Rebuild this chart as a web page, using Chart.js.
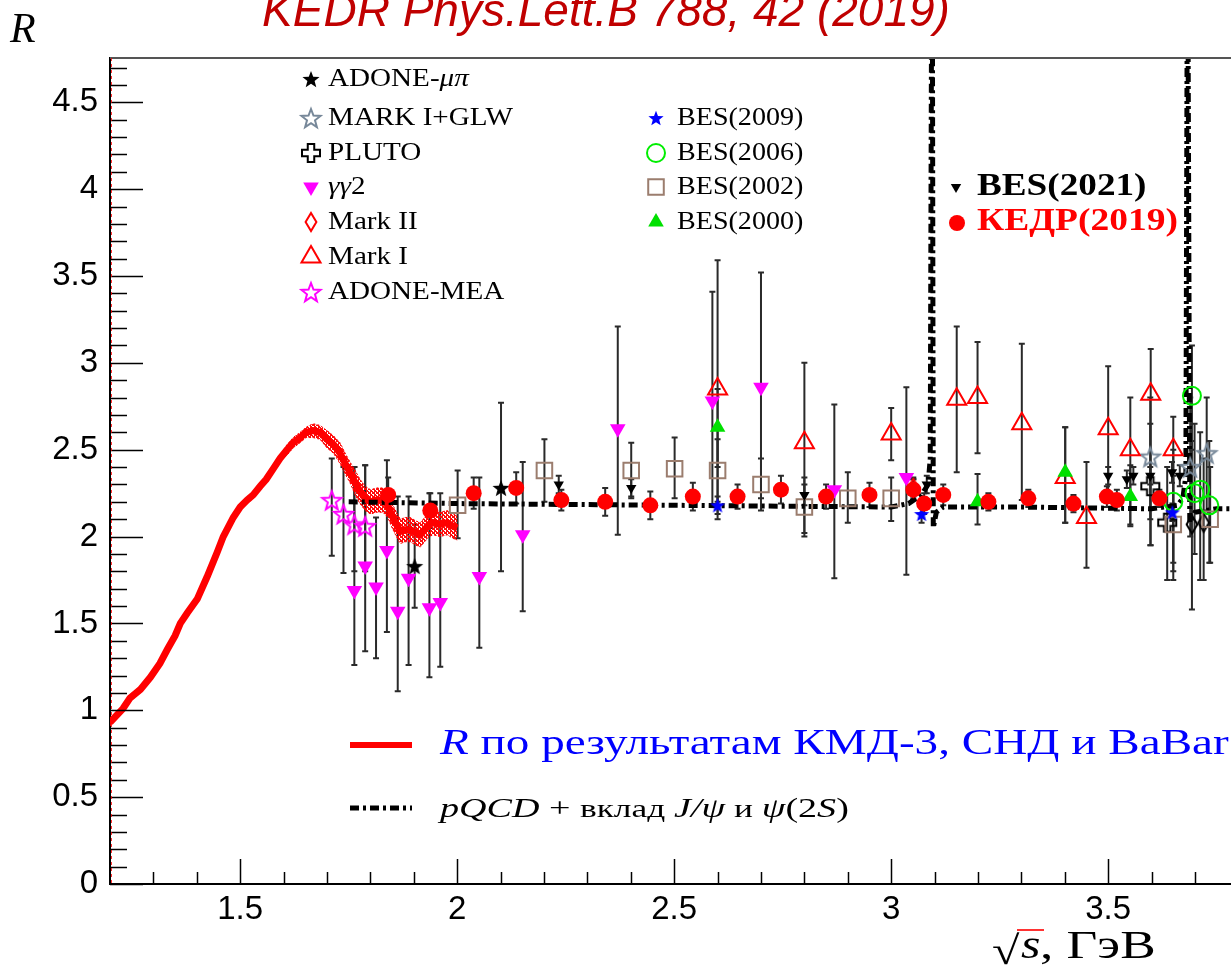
<!DOCTYPE html>
<html>
<head>
<meta charset="utf-8">
<title>R(s)</title>
<script src="https://cdn.jsdelivr.net/npm/chart.js@4.4.1/dist/chart.umd.min.js"></script>
<style>
html, body { margin: 0; padding: 0; background: #fff; }
canvas { display: block; }
</style>
</head>
<body>
<canvas id="rChart" width="1231" height="968" style="width:1231px;height:968px"></canvas>
<script>
// оси
const xTickValues = [1.5, 2, 2.5, 3, 3.5];
const yTickValues = [0, 0.5, 1, 1.5, 2, 2.5, 3, 3.5, 4, 4.5];

// R по результатам КМД-3, СНД и BaBar (кривая + коридор ошибок)
const curveX = [1.200, 1.230, 1.246, 1.270, 1.293, 1.315, 1.332, 1.350, 1.362, 1.378, 1.401, 1.424, 1.447, 1.461, 1.484, 1.500,
  1.516, 1.530, 1.546, 1.560, 1.576, 1.592, 1.608, 1.622, 1.638, 1.652, 1.668, 1.684, 1.700, 1.715, 1.730, 1.742, 1.753,
  1.765, 1.776, 1.788, 1.800, 1.815, 1.829, 1.840, 1.850, 1.860, 1.869, 1.880, 1.892, 1.905, 1.915, 1.925, 1.935, 1.945,
  1.960, 1.977, 1.990, 2.000];
const curveY = [0.93, 1.01, 1.07, 1.12, 1.19, 1.27, 1.35, 1.43, 1.50, 1.56, 1.64, 1.77, 1.91, 2.00, 2.11, 2.17,
  2.21, 2.24, 2.29, 2.33, 2.39, 2.45, 2.50, 2.54, 2.57, 2.60, 2.61, 2.60, 2.56, 2.53, 2.48, 2.42, 2.37,
  2.31, 2.26, 2.22, 2.20, 2.21, 2.21, 2.18, 2.12, 2.07, 2.03, 2.04, 2.04, 2.02, 2.01, 2.04, 2.07, 2.08,
  2.07, 2.08, 2.06, 2.05];
const curveErr = [0.02, 0.02, 0.02, 0.02, 0.02, 0.02, 0.02, 0.02, 0.02, 0.02, 0.02, 0.02, 0.02, 0.02, 0.02, 0.02,
  0.02, 0.02, 0.02, 0.02, 0.02, 0.02, 0.03, 0.03, 0.03, 0.03, 0.04, 0.04, 0.05, 0.05, 0.06, 0.06, 0.06,
  0.07, 0.07, 0.07, 0.07, 0.07, 0.07, 0.07, 0.07, 0.07, 0.07, 0.07, 0.07, 0.07, 0.07, 0.07, 0.07, 0.07,
  0.07, 0.07, 0.07, 0.07];

// pQCD + вклад J/psi и psi(2S)
const pqcdX = [1.75, 2.0, 2.5, 3.0, 3.04, 3.07, 3.085, 3.090, 3.093, 3.095, 3.097, 3.104, 3.12, 3.3, 3.6, 3.66, 3.672, 3.679, 3.682, 3.684, 3.688, 3.70, 3.75, 3.79];
const pqcdY = [2.20, 2.19, 2.18, 2.17, 2.19, 2.24, 2.30, 2.45, 5.0, 5.0, 2.05, 2.14, 2.17, 2.17, 2.16, 2.18, 2.22, 2.35, 5.0, 5.0, 2.08, 2.14, 2.16, 2.16];

// КЕДР(2019)
const kedrX = [1.841, 1.938, 2.038, 2.136, 2.240, 2.341, 2.445, 2.543, 2.646, 2.746, 2.850, 2.950, 3.051, 3.076, 3.120, 3.224, 3.316, 3.420, 3.497, 3.520, 3.618];
const kedrY = [2.24, 2.15, 2.25, 2.28, 2.21, 2.20, 2.18, 2.23, 2.23, 2.27, 2.23, 2.24, 2.27, 2.19, 2.24, 2.20, 2.22, 2.19, 2.23, 2.21, 2.22];
const kedrErr = [0.10, 0.10, 0.09, 0.09, 0.06, 0.08, 0.08, 0.08, 0.07, 0.08, 0.07, 0.07, 0.06, 0.06, 0.06, 0.05, 0.05, 0.05, 0.06, 0.06, 0.05];

// BES(2021)
const bes21X = [2.234, 2.401, 2.800, 3.051, 3.082, 3.500, 3.543, 3.558, 3.597, 3.647, 3.665];
const bes21Y = [2.30, 2.28, 2.24, 2.27, 2.30, 2.35, 2.33, 2.35, 2.35, 2.37, 2.35];
const bes21Err = [0.05, 0.05, 0.06, 0.06, 0.05, 0.05, 0.05, 0.05, 0.05, 0.06, 0.06];

// gamma gamma 2
const gg2X = [1.763, 1.788, 1.813, 1.838, 1.863, 1.888, 1.936, 1.961, 2.051, 2.151, 2.370, 2.588, 2.700, 2.869, 3.035];
const gg2Y = [1.69, 1.83, 1.71, 1.92, 1.57, 1.76, 1.59, 1.62, 1.77, 2.01, 2.62, 2.78, 2.86, 2.27, 2.34];
const gg2Lo = [1.26, 1.34, 1.30, 1.45, 1.11, 1.26, 1.19, 1.25, 1.36, 1.57, 2.01, 2.17, 2.22, 1.76, 1.78];
const gg2Hi = [2.40, 2.41, 2.11, 2.44, 2.23, 2.23, 2.25, 2.25, 2.34, 2.43, 3.21, 3.41, 3.52, 2.76, 2.86];

// ADONE-MEA
const meaX = [1.711, 1.738, 1.763, 1.788];
const meaY = [2.21, 2.13, 2.07, 2.06];
const meaLo = [1.89, 1.79, 1.80, 1.80];
const meaHi = [2.45, 2.40, 2.40, 2.41];

// ADONE-mu pi
const mupiX = [1.902, 2.101];
const mupiY = [1.83, 2.28];
const mupiLo = [1.59, 1.80];
const mupiHi = [2.07, 2.77];

// BES(2002)
const bes02X = [2.001, 2.201, 2.401, 2.501, 2.600, 2.700, 2.800, 2.900, 3.000, 3.650, 3.735];
const bes02Y = [2.18, 2.38, 2.38, 2.39, 2.38, 2.30, 2.17, 2.22, 2.22, 2.07, 2.10];
const bes02Lo = [1.99, 2.20, 2.22, 2.22, 2.20, 2.15, 2.00, 2.08, 2.09, 1.80, 1.85];
const bes02Hi = [2.38, 2.56, 2.54, 2.57, 2.56, 2.45, 2.34, 2.37, 2.34, 2.35, 2.40];

// Mark I
const mark1X = [2.600, 2.800, 3.000, 3.151, 3.199, 3.301, 3.401, 3.450, 3.500, 3.551, 3.598, 3.650];
const mark1Y = [2.85, 2.54, 2.59, 2.79, 2.80, 2.65, 2.34, 2.11, 2.62, 2.50, 2.82, 2.50];
const mark1Lo = [2.10, 2.02, 2.44, 2.37, 2.48, 2.21, 2.08, 1.82, 2.25, 2.06, 1.95, 1.75];
const mark1Hi = [3.59, 3.00, 2.74, 3.21, 3.12, 3.11, 2.63, 2.43, 2.98, 2.80, 3.08, 2.69];

// Mark II
const mark2X = [3.051];
const mark2Y = [2.28];
const mark2Lo = [2.22];
const mark2Hi = [2.34];

// BES(2000)
const bes00X = [2.600, 3.199, 3.401, 3.551];
const bes00Y = [2.63, 2.20, 2.37, 2.23];
const bes00Lo = [2.40, 2.07, 2.08, 2.07];
const bes00Hi = [2.85, 2.36, 2.63, 2.41];

// BES(2009)
const bes09X = [2.600, 3.070, 3.648];
const bes09Y = [2.18, 2.13, 2.14];
const bes09Lo = [2.13, 2.08, 2.09];
const bes09Hi = [2.23, 2.18, 2.19];

// BES(2006)
const bes06X = [3.650, 3.693, 3.699, 3.712, 3.733];
const bes06Y = [2.20, 2.81, 2.25, 2.27, 2.18];
const bes06Lo = [1.85, 2.50, 1.90, 1.75, 1.85];
const bes06Hi = [2.50, 3.10, 2.65, 2.60, 2.55];

// MARK I+GLW
const glwX = [3.597, 3.689, 3.727];
const glwY = [2.46, 2.40, 2.48];
const glwLo = [2.10, 2.00, 2.15];
const glwHi = [2.80, 2.80, 2.80];

// PLUTO
const plutoX = [3.597, 3.636];
const plutoY = [2.29, 2.08];
const plutoLo = [1.95, 1.75];
const plutoHi = [2.65, 2.40];

// открытые ромбы у psi(2S)
const rhombX = [3.693, 3.720];
const rhombY = [2.07, 2.08];
const rhombLo = [1.58, 1.75];
const rhombHi = [2.55, 2.45];

const SERIF = "'Liberation Serif', 'DejaVu Serif', serif";
const SANS = "'Liberation Sans', Arial, sans-serif";

// ---- маркеры, которых нет среди pointStyle Chart.js
function starCanvas(r, fill, stroke, lw) {
    lw = lw || 0;
    const s = Math.ceil(2 * r + lw + 4);
    const c = document.createElement('canvas');
    c.width = c.height = s;
    const g = c.getContext('2d');
    g.translate(s / 2, s / 2 + r * 0.1);
    g.beginPath();
    for (let k = 0; k < 10; k++) {
        const a = -Math.PI / 2 + k * Math.PI / 5;
        const rr = k % 2 ? r * 0.42 : r;
        g.lineTo(rr * Math.cos(a), rr * Math.sin(a));
    }
    g.closePath();
    if (fill) { g.fillStyle = fill; g.fill(); }
    if (stroke) { g.strokeStyle = stroke; g.lineWidth = lw; g.lineJoin = 'miter'; g.stroke(); }
    return c;
}

function crossCanvas(r, stroke, lw) {
    const s = Math.ceil(2 * r + lw + 4);
    const c = document.createElement('canvas');
    c.width = c.height = s;
    const g = c.getContext('2d');
    g.translate(s / 2, s / 2);
    const a = r * 0.36;
    const p = [[-a, -r], [a, -r], [a, -a], [r, -a], [r, a], [a, a], [a, r], [-a, r], [-a, a], [-r, a], [-r, -a], [-a, -a]];
    g.beginPath();
    p.forEach(([u, v]) => g.lineTo(u, v));
    g.closePath();
    g.strokeStyle = stroke; g.lineWidth = lw; g.stroke();
    return c;
}

function diamondCanvas(r, stroke, lw) {
    const s = Math.ceil(2 * r + lw + 4);
    const c = document.createElement('canvas');
    c.width = c.height = s;
    const g = c.getContext('2d');
    g.translate(s / 2, s / 2);
    g.beginPath();
    g.moveTo(0, -r); g.lineTo(r * 0.6, 0); g.lineTo(0, r); g.lineTo(-r * 0.6, 0);
    g.closePath();
    g.strokeStyle = stroke; g.lineWidth = lw; g.stroke();
    return c;
}

function dotPattern(ctx, color) {
    const c = document.createElement('canvas');
    c.width = 4; c.height = 4;
    const g = c.getContext('2d');
    g.fillStyle = color;
    g.fillRect(0, 0, 3, 2);
    g.fillRect(2, 2, 2, 2);
    g.fillRect(0, 3, 1, 1);
    return ctx.createPattern(c, 'repeat');
}

const pts = (xs, ys) => xs.map((v, i) => ({ x: v, y: ys[i] }));
const NONE = 'rgba(0,0,0,0)';

function series(label, xs, ys, lo, hi, style) {
    return Object.assign({
        type: 'scatter',
        label: label,
        data: pts(xs, ys),
        errLo: lo,
        errHi: hi,
        showLine: false,
        pointBorderWidth: 2,
        pointHoverRadius: 0
    }, style);
}

const canvas = document.getElementById('rChart');
const ctx = canvas.getContext('2d');

const datasets = [
    series('КЕДР(2019)', kedrX, kedrY, kedrX.map((v, i) => kedrY[i] - kedrErr[i]), kedrX.map((v, i) => kedrY[i] + kedrErr[i]),
        { pointStyle: 'circle', pointRadius: 8, pointBackgroundColor: '#ff0000', pointBorderColor: '#ff0000', pointBorderWidth: 0, order: 1 }),
    series('BES(2021)', bes21X, bes21Y, bes21X.map((v, i) => bes21Y[i] - bes21Err[i]), bes21X.map((v, i) => bes21Y[i] + bes21Err[i]),
        { pointStyle: 'triangle', rotation: 180, pointRadius: 6, pointBackgroundColor: '#000', pointBorderColor: '#000', pointBorderWidth: 0, order: 2 }),
    series('BES(2009)', bes09X, bes09Y, bes09Lo, bes09Hi,
        { pointStyle: starCanvas(8, '#0000ff'), pointRadius: 8, order: 3 }),
    series('ADONE-μπ', mupiX, mupiY, mupiLo, mupiHi,
        { pointStyle: starCanvas(9, '#000'), pointRadius: 9, order: 4 }),
    series('γγ2', gg2X, gg2Y, gg2Lo, gg2Hi,
        { pointStyle: 'triangle', rotation: 180, pointRadius: 9, pointBackgroundColor: '#ff00ff', pointBorderColor: '#ff00ff', pointBorderWidth: 0, order: 5 }),
    series('BES(2000)', bes00X, bes00Y, bes00Lo, bes00Hi,
        { pointStyle: 'triangle', pointRadius: 9, pointBackgroundColor: '#00e000', pointBorderColor: '#00e000', pointBorderWidth: 0, order: 6 }),
    series('Mark I', mark1X, mark1Y, mark1Lo, mark1Hi,
        { pointStyle: 'triangle', pointRadius: 11, pointBackgroundColor: NONE, pointBorderColor: '#ff0000', pointBorderWidth: 2, order: 7 }),
    series('Mark II', mark2X, mark2Y, mark2Lo, mark2Hi,
        { pointStyle: diamondCanvas(9, '#ff0000', 2), pointRadius: 9, order: 8 }),
    series('BES(2006)', bes06X, bes06Y, bes06Lo, bes06Hi,
        { pointStyle: 'circle', pointRadius: 9, pointBackgroundColor: NONE, pointBorderColor: '#00ee00', pointBorderWidth: 2, order: 9 }),
    series('BES(2002)', bes02X, bes02Y, bes02Lo, bes02Hi,
        { pointStyle: 'rect', pointRadius: 11, pointBackgroundColor: NONE, pointBorderColor: '#9b7d6e', pointBorderWidth: 2, order: 10 }),
    series('MARK I+GLW', glwX, glwY, glwLo, glwHi,
        { pointStyle: starCanvas(10, null, '#778899', 2), pointRadius: 10, order: 11 }),
    series('PLUTO', plutoX, plutoY, plutoLo, plutoHi,
        { pointStyle: crossCanvas(9, '#000', 2), pointRadius: 9, order: 12 }),
    series('', rhombX, rhombY, rhombLo, rhombHi,
        { pointStyle: diamondCanvas(9, '#000', 2), pointRadius: 9, order: 13 }),
    series('ADONE-MEA', meaX, meaY, meaLo, meaHi,
        { pointStyle: starCanvas(10, null, '#ff00ff', 2), pointRadius: 10, order: 14 }),
    {
        type: 'line', label: 'pQCD', data: pts(pqcdX, pqcdY),
        borderColor: '#000', borderWidth: 5, borderDash: [9, 4, 3, 4],
        pointRadius: 0, tension: 0, fill: false, order: 15
    },
    {
        type: 'line', label: 'R', data: pts(curveX, curveY),
        borderColor: '#ff0000', borderWidth: 7, pointRadius: 0, tension: 0, fill: false, order: 16
    },
    {
        type: 'line', label: 'R+', data: pts(curveX, curveY.map((v, i) => v + curveErr[i])),
        borderColor: '#ff0000', borderWidth: 1, borderDash: [2, 2], pointRadius: 0, tension: 0,
        fill: '+1', backgroundColor: dotPattern(ctx, 'rgba(255,0,0,0.95)'), order: 17
    },
    {
        type: 'line', label: 'R-', data: pts(curveX, curveY.map((v, i) => v - curveErr[i])),
        borderColor: '#ff0000', borderWidth: 1, borderDash: [2, 2], pointRadius: 0, tension: 0, fill: false, order: 18
    }
];

// вертикальные ошибки с короткими засечками
const errorBars = {
    id: 'errorBars',
    beforeDatasetsDraw(chart) {
        const { ctx, chartArea: a, scales: { x, y } } = chart;
        ctx.save();
        ctx.beginPath();
        ctx.rect(a.left, a.top, a.right - a.left, a.bottom - a.top);
        ctx.clip();
        ctx.strokeStyle = '#2a2a2a';
        ctx.lineWidth = 2;
        chart.data.datasets.forEach(ds => {
            if (!ds.errLo) return;
            ds.data.forEach((p, i) => {
                const px = x.getPixelForValue(p.x);
                const t = y.getPixelForValue(ds.errHi[i]);
                const b = y.getPixelForValue(ds.errLo[i]);
                ctx.beginPath();
                ctx.moveTo(px, t); ctx.lineTo(px, b);
                ctx.moveTo(px - 3, t); ctx.lineTo(px + 3, t);
                ctx.moveTo(px - 3, b); ctx.lineTo(px + 3, b);
                ctx.stroke();
            });
        });
        ctx.restore();
    }
};

// текст из кусков разного начертания, с горизонтальным растяжением sx
function richText(ctx, parts, x, y, sx) {
    ctx.save();
    ctx.translate(x, y);
    ctx.scale(sx || 1, 1);
    let cx = 0;
    parts.forEach(([txt, font]) => {
        ctx.font = font;
        ctx.fillText(txt, cx, 0);
        cx += ctx.measureText(txt).width;
    });
    ctx.restore();
}

function legendMarker(ctx, ds, x, y) {
    ctx.save();
    ctx.fillStyle = ds.pointBackgroundColor || NONE;
    ctx.strokeStyle = ds.pointBorderColor || NONE;
    ctx.lineWidth = ds.pointBorderWidth || 0;
    Chart.helpers.drawPoint(ctx, {
        pointStyle: ds.pointStyle,
        radius: ds.pointRadius,
        rotation: ds.rotation || 0,
        borderWidth: ds.pointBorderWidth || 0
    }, x, y);
    ctx.restore();
}

// рамка, засечки, подписи осей, легенды
const decorations = {
    id: 'decorations',
    afterDraw(chart) {
        const { ctx, chartArea: a, scales: { x, y } } = chart;
        const byLabel = l => chart.data.datasets.find(d => d.label === l);
        ctx.save();

        // верхняя рамка
        ctx.strokeStyle = '#555';
        ctx.lineWidth = 2;
        ctx.beginPath(); ctx.moveTo(a.left, a.top); ctx.lineTo(a.right, a.top); ctx.stroke();

        // засечки
        ctx.strokeStyle = '#000';
        ctx.lineWidth = 1.5;
        ctx.beginPath();
        for (let k = 0; k <= 47; k++) {
            const py = Math.round(y.getPixelForValue(k / 10)) + 0.5;
            const len = k % 5 === 0 ? 33 : 17;
            ctx.moveTo(a.left, py); ctx.lineTo(a.left + len, py);
        }
        for (let k = 13; k <= 37; k++) {
            const px = Math.round(x.getPixelForValue(k / 10)) + 0.5;
            const len = k % 5 === 0 ? 25 : 12;
            ctx.moveTo(px, a.bottom); ctx.lineTo(px, a.bottom - len);
        }
        ctx.stroke();

        // красный пунктир вдоль левой оси
        ctx.strokeStyle = 'rgba(255,0,0,0.8)';
        ctx.lineWidth = 1;
        ctx.setLineDash([3, 3]);
        ctx.beginPath(); ctx.moveTo(a.left + 1.5, a.top); ctx.lineTo(a.left + 1.5, a.bottom); ctx.stroke();
        ctx.setLineDash([]);

        // заголовок
        ctx.fillStyle = '#c00000';
        ctx.font = 'italic 46px ' + SANS;
        ctx.textAlign = 'center';
        ctx.textBaseline = 'alphabetic';
        ctx.fillText('KEDR Phys.Lett.B 788, 42 (2019)', 606, 26);

        // названия осей
        ctx.textAlign = 'left';
        ctx.fillStyle = '#000';
        ctx.font = 'italic 42px ' + SERIF;
        ctx.fillText('R', 10, 42);

        richText(ctx, [['√', '40px ' + SERIF]], 992, 964, 1.25);
        richText(ctx, [['s', 'italic 40px ' + SERIF]], 1021, 958, 1.25);
        ctx.lineWidth = 2;
        ctx.beginPath(); ctx.moveTo(1017, 930); ctx.lineTo(1044, 930); ctx.stroke();
        richText(ctx, [[', ГэВ', '40px ' + SERIF]], 1040, 958, 1.33);

        // легенда экспериментов
        ctx.textBaseline = 'middle';
        const F = '26px ' + SERIF, FI = 'italic 26px ' + SERIF, SX = 1.12;
        const col1 = [['ADONE-μπ', 79], ['MARK I+GLW', 118], ['PLUTO', 153], ['γγ2', 187], ['Mark II', 222], ['Mark I', 257], ['ADONE-MEA', 292]];
        col1.forEach(([l, yy]) => {
            legendMarker(ctx, byLabel(l), 311, yy);
            ctx.fillStyle = '#000';
            if (l === 'ADONE-μπ') richText(ctx, [['ADONE-', F], ['μπ', FI]], 328, yy, SX);
            else if (l === 'γγ2') richText(ctx, [['γγ', FI], ['2', F]], 328, yy, SX);
            else richText(ctx, [[l, F]], 328, yy, SX);
        });
        const col2 = [['BES(2009)', 118], ['BES(2006)', 153], ['BES(2002)', 187], ['BES(2000)', 222]];
        col2.forEach(([l, yy]) => {
            legendMarker(ctx, byLabel(l), 656, yy);
            ctx.fillStyle = '#000';
            richText(ctx, [[l, F]], 677, yy, 1.08);
        });
        legendMarker(ctx, byLabel('BES(2021)'), 956, 187);
        ctx.fillStyle = '#000';
        richText(ctx, [['BES(2021)', 'bold 31px ' + SERIF]], 977, 187, 1.2);
        legendMarker(ctx, byLabel('КЕДР(2019)'), 957, 223);
        ctx.fillStyle = '#ff0000';
        richText(ctx, [['КЕДР(2019)', 'bold 31px ' + SERIF]], 977, 222, 1.21);

        // легенда кривых
        ctx.strokeStyle = '#ff0000';
        ctx.lineWidth = 6;
        ctx.beginPath(); ctx.moveTo(350, 745); ctx.lineTo(412, 745); ctx.stroke();
        ctx.fillStyle = '#0000ff';
        richText(ctx, [['R', 'italic 36px ' + SERIF], [' по результатам КМД-3, СНД и BaBar', '36px ' + SERIF]], 440, 745, 1.31);

        ctx.strokeStyle = '#000';
        ctx.lineWidth = 5;
        ctx.setLineDash([9, 4, 3, 4]);
        ctx.beginPath(); ctx.moveTo(350, 808); ctx.lineTo(412, 808); ctx.stroke();
        ctx.setLineDash([]);
        ctx.fillStyle = '#000';
        richText(ctx, [
            ['pQCD', 'italic 28px ' + SERIF], [' + ', '28px ' + SERIF], ['вклад ', '26px ' + SERIF],
            ['J/ψ', 'italic 28px ' + SERIF], [' и ', '26px ' + SERIF], ['ψ', 'italic 28px ' + SERIF],
            ['(2', '28px ' + SERIF], ['S', 'italic 28px ' + SERIF], [')', '28px ' + SERIF]
        ], 440, 810, 1.36);

        ctx.restore();
    }
};

new Chart(canvas, {
    data: { datasets: datasets },
    options: {
        responsive: false,
        animation: false,
        events: [],
        layout: { autoPadding: false, padding: { top: 58, right: 0, left: 0, bottom: 0 } },
        scales: {
            x: {
                type: 'linear',
                min: 1.2,
                max: 3.783,
                afterFit: s => { s.height = 84; },
                afterBuildTicks: s => { s.ticks = xTickValues.map(v => ({ value: v })); },
                grid: { display: false, drawTicks: false },
                border: { color: '#000', width: 2 },
                ticks: { color: '#000', font: { family: SANS, size: 33 }, padding: 6, autoSkip: false, maxRotation: 0, callback: v => String(v) }
            },
            y: {
                type: 'linear',
                min: 0,
                max: 4.755,
                afterFit: s => { s.width = 110; },
                afterBuildTicks: s => { s.ticks = yTickValues.map(v => ({ value: v })); },
                grid: { display: false, drawTicks: false },
                border: { color: '#000', width: 2 },
                ticks: { color: '#000', font: { family: SANS, size: 33 }, padding: 12, autoSkip: false, callback: v => String(v) }
            }
        },
        plugins: {
            legend: { display: false },
            tooltip: { enabled: false },
            title: { display: false }
        }
    },
    plugins: [errorBars, decorations]
});
</script>
</body>
</html>
